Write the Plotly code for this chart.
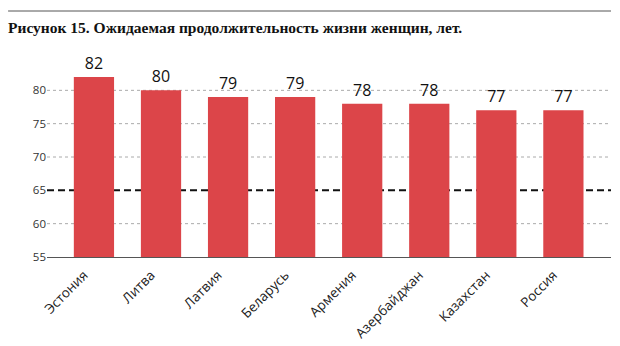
import plotly.graph_objects as go

countries = ["Эстония", "Литва", "Латвия", "Беларусь", "Армения",
             "Азербайджан", "Казахстан", "Россия"]
life_expectancy = [82, 80, 79, 79, 78, 78, 77, 77]
y_ticks = [55, 60, 65, 70, 75, 80]
threshold = 65

title_text = "Рисунок 15. Ожидаемая продолжительность жизни женщин, лет."

fig = go.Figure()
fig.add_trace(go.Bar(
    x=countries,
    y=life_expectancy,
    marker=dict(color="#DC4549", line=dict(width=0)),
    width=0.6,
    text=[str(v) for v in life_expectancy],
    textposition="outside",
    cliponaxis=False,
    textfont=dict(family="Open Sans", size=16, color="#111111"),
))

# dotted grid lines (the threshold level gets a dashed line instead)
for v in y_ticks:
    if v in (y_ticks[0], threshold):
        continue
    fig.add_shape(type="line", xref="paper", yref="y", x0=0, x1=1, y0=v, y1=v,
                  line=dict(color="#aaaaaa", width=1, dash="dot"), layer="below")

# dashed reference line
fig.add_shape(type="line", xref="paper", yref="y", x0=0, x1=1,
              y0=threshold, y1=threshold,
              line=dict(color="#111111", width=2, dash="7px,4px"), layer="below")

# rule above the caption
fig.add_shape(type="line", xref="paper", yref="paper",
              x0=-0.069, x1=1.0, y0=1.23, y1=1.23,
              line=dict(color="#555555", width=1))

fig.add_annotation(text="<b>" + title_text + "</b>", xref="paper", yref="paper",
                   x=-0.072, y=1.145, xanchor="left", yanchor="middle",
                   showarrow=False,
                   font=dict(family="Liberation Serif", size=15.5, color="#111111"))

fig.update_layout(
    width=620, height=346,
    margin=dict(l=47, r=9, t=57, b=89),
    plot_bgcolor="white", paper_bgcolor="white",
    showlegend=False,
    bargap=0.4,
    xaxis=dict(
        range=[-0.70, 7.71],
        tickangle=-45,
        tickfont=dict(family="Open Sans", size=13.5, color="#222222"),
        ticklabelshift=-10,
        ticklabelstandoff=4,
        automargin=False,
        showgrid=False, ticks="",
        showline=True, linecolor="#555555", linewidth=1,
    ),
    yaxis=dict(
        range=[55, 85],
        tickvals=y_ticks,
        tickfont=dict(family="Open Sans", size=11.5, color="#333333"),
        automargin=False,
        showgrid=False,
        zeroline=False, ticks="", ticklen=0,
        showline=False,
    ),
)

fig.write_html("out.html")
